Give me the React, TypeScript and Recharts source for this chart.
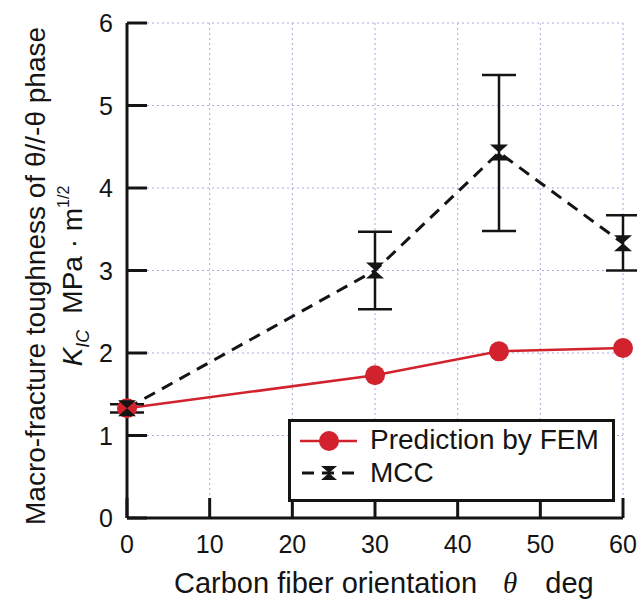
import { CartesianGrid, ErrorBar, Label, Legend, Line, LineChart, XAxis, YAxis } from "recharts";

const angles = [0, 30, 45, 60];
const femValues = [1.33, 1.73, 2.02, 2.06];
const mccValues = [1.33, 3.0, 4.43, 3.33];
const mccLow = [1.28, 2.53, 3.48, 3.0];
const mccHigh = [1.38, 3.47, 5.37, 3.67];
const xTicks = [0, 10, 20, 30, 40, 50, 60];
const yTicks = [0, 1, 2, 3, 4, 5, 6];

const data = angles.map((angle, i) => ({
  angle,
  fem: femValues[i],
  mcc: mccValues[i],
  mccErr: [mccValues[i] - mccLow[i], mccHigh[i] - mccValues[i]]
}));

const FONT = '"Liberation Sans", Arial, sans-serif';
const INK = "#141414";
const RED = "#d2222d";
const TICK_IN = 20;

// negative tickSize: the tick props sit TICK_IN px inside the frame
function XTick(props: any) {
  const { x, y, payload } = props;
  return (
    <g>
      <line x1={x} x2={x} y1={y} y2={y + TICK_IN} stroke={INK} strokeWidth={3} />
      <text x={x} y={y + TICK_IN + 35} textAnchor="middle" fontSize={25} fontFamily={FONT} fill={INK}>
        {payload.value}
      </text>
    </g>
  );
}

function YTick(props: any) {
  const { x, y, payload } = props;
  return (
    <g>
      <line x1={x} x2={x - TICK_IN} y1={y} y2={y} stroke={INK} strokeWidth={3} />
      <text x={x - TICK_IN - 14} y={y + 9} textAnchor="end" fontSize={25} fontFamily={FONT} fill={INK}>
        {payload.value}
      </text>
    </g>
  );
}

function XTitle(props: any) {
  const { viewBox } = props;
  const x = viewBox.x + 47;
  const y = viewBox.y + 75;
  return (
    <text x={x} y={y} fontSize={29} fontFamily={FONT} fill={INK}>
      Carbon fiber orientation
      <tspan dx={26} fontFamily='"Liberation Serif", serif' fontStyle="italic">θ</tspan>
      <tspan dx={28}>deg</tspan>
    </text>
  );
}

function YTitle() {
  return (
    <g fontFamily={FONT} fill={INK}>
      <text x={45} y={276} transform="rotate(-90 45 276)" textAnchor="middle" fontSize={28}>
        Macro-fracture toughness of θ//-θ phase
      </text>
      <text x={82} y={276} transform="rotate(-90 82 276)" textAnchor="middle" fontSize={28}>
        <tspan fontStyle="italic">K</tspan>
        <tspan fontStyle="italic" fontSize={18} dy={7}>IC</tspan>
        <tspan dy={-7} dx={16}>MPa · m</tspan>
        <tspan fontSize={16} dy={-13}>1/2</tspan>
      </text>
    </g>
  );
}

function Bowtie(props: any) {
  const { cx, cy, index } = props;
  if (cx == null || cy == null) return <g key={`b${index}`} />;
  return (
    <path
      key={`b${index}`}
      d={`M${cx - 9},${cy - 8}L${cx + 9},${cy - 8}L${cx - 9},${cy + 8}L${cx + 9},${cy + 8}Z`}
      fill={INK}
    />
  );
}

function LegendBox() {
  return (
    <svg width={327} height={83} style={{ display: "block" }}>
      <rect x={1.5} y={1.5} width={324} height={80} fill="#fff" stroke={INK} strokeWidth={3} />
      <line x1={12} x2={69} y1={22} y2={22} stroke={RED} strokeWidth={2.5} />
      <circle cx={41} cy={22} r={10} fill={RED} />
      <text x={82} y={30} fontSize={28} fontFamily={FONT} fill={INK}>
        Prediction by FEM
      </text>
      <line x1={12} x2={69} y1={54} y2={54} stroke={INK} strokeWidth={3} strokeDasharray="12 8" strokeDashoffset={-2} />
      <path d="M33,47L49,47L33,61L49,61Z" fill={INK} />
      <text x={82} y={63} fontSize={28} fontFamily={FONT} fill={INK}>
        MCC
      </text>
    </svg>
  );
}

export default function App() {
  return (
    <div style={{ position: "absolute", left: 0, top: 0, width: 637, height: 601, background: "#fff" }}>
      <LineChart width={637} height={601} data={data} margin={{ top: 23, right: 14, bottom: 0, left: 0 }}>
        <CartesianGrid stroke="#a9a9dc" strokeDasharray="2 3" strokeWidth={1} />
        <XAxis
          dataKey="angle"
          type="number"
          domain={[0, 60]}
          ticks={xTicks}
          height={83}
          tickSize={-TICK_IN}
          tickMargin={0}
          tick={XTick}
          tickLine={false}
          axisLine={{ stroke: INK, strokeWidth: 3 }}
        >
          <Label content={XTitle} />
        </XAxis>
        <XAxis
          xAxisId="top"
          orientation="top"
          type="number"
          domain={[0, 60]}
          height={0}
          tick={false}
          tickLine={false}
          axisLine={{ stroke: INK, strokeWidth: 3 }}
        />
        <YAxis
          type="number"
          domain={[0, 6]}
          ticks={yTicks}
          width={127}
          tickSize={-TICK_IN}
          tickMargin={0}
          tick={YTick}
          tickLine={false}
          axisLine={{ stroke: INK, strokeWidth: 3 }}
        >
          <Label content={YTitle} />
        </YAxis>
        <YAxis
          yAxisId="right"
          orientation="right"
          type="number"
          domain={[0, 6]}
          width={0}
          tick={false}
          tickLine={false}
          axisLine={{ stroke: INK, strokeWidth: 3 }}
        />
        <Legend
          verticalAlign="middle"
          align="center"
          content={LegendBox}
          wrapperStyle={{ left: 288, top: 419, width: 327, height: 83 }}
        />
        <Line
          dataKey="fem"
          name="Prediction by FEM"
          stroke={RED}
          strokeWidth={2.5}
          dot={{ r: 10, fill: RED, stroke: RED, strokeWidth: 0 }}
          activeDot={false}
          isAnimationActive={false}
        />
        <Line
          dataKey="mcc"
          name="MCC"
          stroke={INK}
          strokeWidth={3}
          strokeDasharray="12 8"
          dot={Bowtie}
          activeDot={false}
          isAnimationActive={false}
        >
          <ErrorBar dataKey="mccErr" direction="y" width={17} stroke={INK} strokeWidth={2.5} isAnimationActive={false} />
        </Line>
      </LineChart>
    </div>
  );
}
